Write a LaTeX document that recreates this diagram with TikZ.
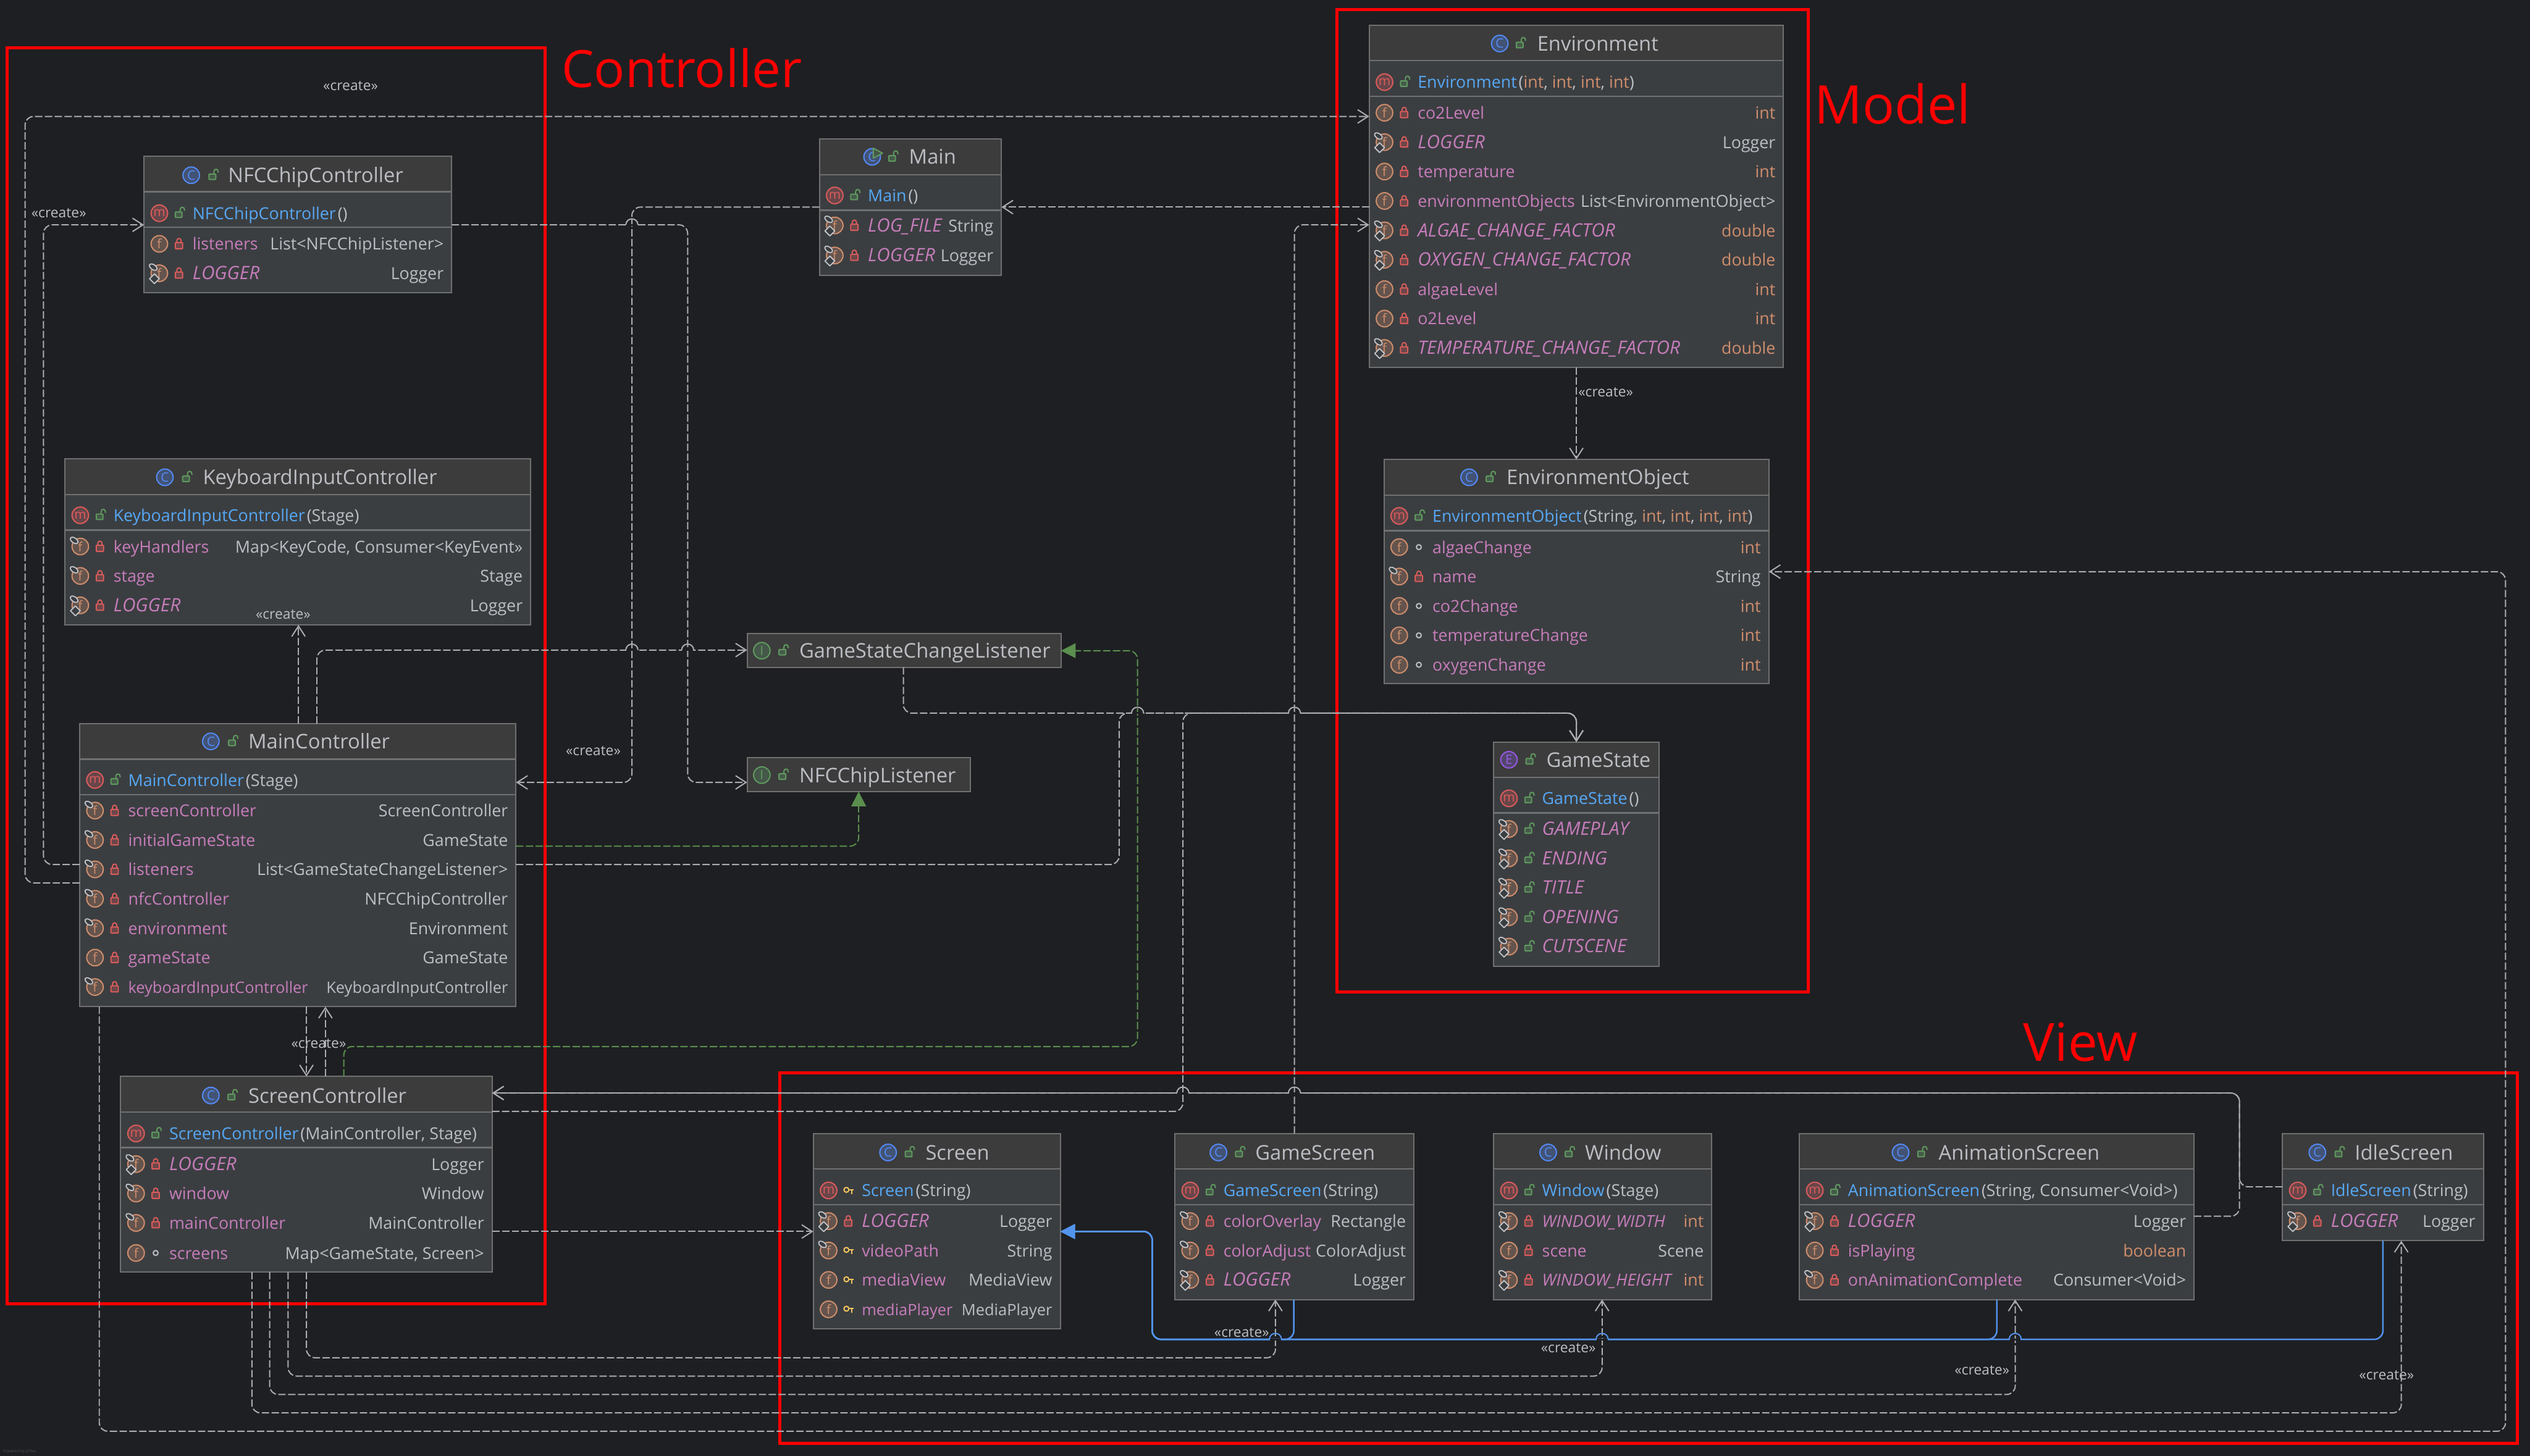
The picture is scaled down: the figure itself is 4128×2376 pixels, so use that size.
\documentclass[tikz,border=0pt]{standalone}
\usepackage{fontspec}
\setmainfont{Open Sans}
\usetikzlibrary{arrows.meta}
\definecolor{bg}{HTML}{1E1F22}
\definecolor{hdr}{HTML}{3C3C3C}
\definecolor{body}{HTML}{3B3E41}
\definecolor{edge}{HTML}{707070}
\definecolor{cline}{HTML}{ABADB0}
\definecolor{ctxt}{HTML}{BCBEC4}
\definecolor{cname}{HTML}{C77DBB}
\definecolor{cmeth}{HTML}{56A8F5}
\definecolor{cprim}{HTML}{CF8E6D}
\definecolor{cblue}{HTML}{548AF7}
\definecolor{cred}{HTML}{DB5C5C}
\definecolor{cgreen}{HTML}{5F9A5F}
\definecolor{cpurp}{HTML}{955AE0}
\definecolor{cyel}{HTML}{F2C55C}
\definecolor{cinh}{HTML}{5394EC}
\definecolor{cimp}{HTML}{5A8F4E}
\newcount\nid
\newcommand{\stp}{\global\advance\nid by 1 }
\newcommand{\ty}[1]{\textcolor{ctxt}{#1}}
\newcommand{\pr}[1]{\textcolor{cprim}{#1}}
\newcommand{\me}[1]{\textcolor{cmeth}{#1}\hspace{3pt}}
\newcommand{\st}[1]{{\fontsize{30}{30}\selectfont\textit{#1}}}
\newcommand{\snug}[1]{{\fontsize{25.6}{26}\selectfont #1}}
\tikzset{
  umlbox/.style={draw=edge,fill=body,line width=2pt,inner sep=0pt,outer sep=0pt,anchor=north west},
  dep/.style={draw=cline,line width=2pt,dash pattern=on 12pt off 4pt,rounded corners=14pt,-{Straight Barb[length=17pt,width=22pt,line width=2pt]}},
  impl/.style={draw=cimp,line width=2pt,dash pattern=on 12pt off 4pt,rounded corners=14pt,-{Triangle[length=24pt,width=24pt]}},
  inh/.style={draw=cinh,line width=2.5pt,rounded corners=14pt,-{Triangle[length=24pt,width=24pt]}},
  sect/.style={draw=red,line width=5pt},
  secttxt/.style={text=red,font=\fontsize{84}{84}\selectfont,anchor=base west,inner sep=0pt},
  crt/.style={text=ctxt,font=\fontsize{23}{23}\selectfont,inner sep=0pt},
  titletxt/.style={font=\fontsize{33}{33}\selectfont,text=ctxt,anchor=base west,inner sep=0pt},
  rowl/.style={font=\fontsize{27}{27}\selectfont,text=cname,anchor=base west,inner sep=0pt},
  rowr/.style={font=\fontsize{27}{27}\selectfont,text=ctxt,anchor=base east,inner sep=0pt},
  ctor/.style={font=\fontsize{27}{27}\selectfont,text=ctxt,anchor=base west,inner sep=0pt},
}
% circular type icon
\newcommand{\ticon}[5]{\stp
  \node[circle,draw=#4,fill=#5,line width=2pt,minimum size=27pt,inner sep=0pt,text=#4,font=\fontsize{21}{21}\selectfont] (g\the\nid) at (#1,#2) {#3};}
% visibility icons
\newcommand{\vpri}[2]{\draw[cred,line width=2pt,fill=cred!30!body,rounded corners=1pt] (#1-6,#2-2) rectangle (#1+6,#2+8);
  \draw[cred,line width=2pt] (#1-3.5,#2-2) -- (#1-3.5,#2-5) .. controls (#1-3.5,#2-10) and (#1+3.5,#2-10) .. (#1+3.5,#2-5) -- (#1+3.5,#2-2);}
\newcommand{\vpub}[2]{\draw[cgreen,line width=2pt,fill=cgreen!30!body,rounded corners=1pt] (#1-6,#2-2) rectangle (#1+5,#2+7);
  \draw[cgreen,line width=2pt] (#1+2,#2-2) -- (#1+2,#2-6) .. controls (#1+2,#2-11) and (#1+9,#2-11) .. (#1+9,#2-6) -- (#1+9,#2-4);}
\newcommand{\vpro}[2]{\draw[cyel,line width=2pt] (#1-3,#2-1) circle (4pt);
  \draw[cyel,line width=2pt] (#1+1,#2-1) -- (#1+9,#2-1) (#1+6,#2-1) -- (#1+6,#2+6);}
\newcommand{\vpkg}[2]{\draw[ctxt,line width=2pt] (#1,#2) circle (4pt);}
% modifier markers
\newcommand{\mnone}[2]{}
\newcommand{\mfin}[2]{\draw[draw=ctxt!90!white,fill=body,line width=1.8pt] (#1-10,#2-10) ellipse [x radius=7pt,y radius=4pt,rotate=-35];}
\newcommand{\mboth}[2]{\mfin{#1}{#2}\draw[draw=ctxt!90!white,fill=body,line width=1.8pt,line join=round] (#1-8,#2+1) -- (#1,#2+9) -- (#1-8,#2+17) -- (#1-16,#2+9) -- cycle;}
% class box: id x1 x2 top bottom
\newcommand{\umlb}[5]{
  \pgfmathsetlengthmacro{\bw}{#3-(#2)}\pgfmathsetlengthmacro{\bh}{#5-(#4)}
  \node[umlbox,minimum width=\bw,minimum height=\bh] (#1) at (#2,#4) {};
  \fill[hdr] (#2+1,#4+1) rectangle (#3-1,#4+57);
  \draw[edge,line width=2.5pt] (#2+1,#4+58) -- (#3-1,#4+58) (#2+1,#4+116) -- (#3-1,#4+116);
}
% title: cx vx tx y letter col tint text
\newcommand{\ttl}[8]{\ticon{#1}{#4}{#5}{#6}{#7}\vpub{#2}{#4}\stp
  \node[titletxt] (t\the\nid) at (#3,#4+12) {#8};}
% ctor row: x1 y vis content
\newcommand{\cto}[4]{\ticon{#1+25}{#2}{m}{cred}{cred!28!body}#3{#1+57}{#2}\stp
  \node[ctor] (c\the\nid) at (#1+79,#2+10) {#4};}
% field row: x1 x2 y marker vis name type
\newcommand{\frow}[7]{\ticon{#1+25}{#3}{f}{cprim}{cprim!28!body}#4{#1+25}{#3}#5{#1+57}{#3}\stp
  \node[rowl] (l\the\nid) at (#1+79,#3+10) {#6};\stp
  \node[rowr] (r\the\nid) at (#2-13,#3+10) {#7};}
% line hop over a crossing line
\newcommand{\hop}[3]{\fill[bg] (#1-9,#2-1.5) rectangle (#1+9,#2+1.5);
  \draw[#3,line width=2pt] (#1-10,#2) .. controls (#1-9,#2-13) and (#1+9,#2-13) .. (#1+10,#2);}
\begin{document}
\begin{tikzpicture}[x=1pt,y=-1pt]
\fill[bg] (0,0) rectangle (4128,2376);
\useasboundingbox (0,0) rectangle (4128,2376);
% sections
\draw[sect] (12,78) rectangle (889,2128);
\draw[sect] (2181,16) rectangle (2950,1619);
\draw[sect] (1272,1751) rectangle (4107,2356);
\node[secttxt] (tctl) at (916,143) {Controller};
\node[secttxt,font=\fontsize{87}{87}\selectfont] (tmod) at (2960,202) {Model};
\node[secttxt,font=\fontsize{86}{86}\selectfont] (tvw) at (3301,1732) {View};
\node[text=white!22!bg,font=\fontsize{6.5}{6.5}\selectfont,anchor=base west,inner sep=0pt] (yf) at (5,2371) {Powered by yFiles};

% boxes
\umlb{nfc}{235}{737}{255}{478}
\ttl{312}{347}{372}{286}{C}{cblue}{cblue!28!body}{NFCChipController}
\cto{235}{348}{\vpub}{\me{NFCChipController}()}
\frow{235}{737}{398}{\mnone}{\vpri}{listeners}{List<NFCChipListener>}
\frow{235}{737}{446}{\mboth}{\vpri}{\st{LOGGER}}{Logger}

\umlb{kbd}{106}{866}{749}{1020}
\ttl{269}{304}{331}{779}{C}{cblue}{cblue!28!body}{KeyboardInputController}
\cto{106}{841}{\vpub}{\me{KeyboardInputController}(Stage)}
\frow{106}{866}{892}{\mfin}{\vpri}{keyHandlers}{Map<KeyCode, Consumer<KeyEvent>>}
\frow{106}{866}{940}{\mfin}{\vpri}{stage}{Stage}
\frow{106}{866}{988}{\mboth}{\vpri}{\st{LOGGER}}{Logger}

\umlb{mctl}{130}{842}{1181}{1643}
\ttl{344}{379}{405}{1210}{C}{cblue}{cblue!28!body}{MainController}
\cto{130}{1273}{\vpub}{\me{MainController}(Stage)}
\frow{130}{842}{1323}{\mfin}{\vpri}{screenController}{ScreenController}
\frow{130}{842}{1371}{\mfin}{\vpri}{initialGameState}{GameState}
\frow{130}{842}{1419}{\mfin}{\vpri}{listeners}{List<GameStateChangeListener>}
\frow{130}{842}{1467}{\mfin}{\vpri}{nfcController}{NFCChipController}
\frow{130}{842}{1515}{\mfin}{\vpri}{environment}{Environment}
\frow{130}{842}{1563}{\mnone}{\vpri}{gameState}{GameState}
\frow{130}{842}{1611}{\mfin}{\vpri}{\snug{keyboardInputController}}{\snug{KeyboardInputController}}

\umlb{sctl}{197}{803}{1757}{2076}
\ttl{344}{378}{405}{1788}{C}{cblue}{cblue!28!body}{ScreenController}
\cto{197}{1850}{\vpub}{\me{ScreenController}(MainController, Stage)}
\frow{197}{803}{1900}{\mboth}{\vpri}{\st{LOGGER}}{Logger}
\frow{197}{803}{1948}{\mfin}{\vpri}{window}{Window}
\frow{197}{803}{1996}{\mfin}{\vpri}{mainController}{MainController}
\frow{197}{803}{2045}{\mnone}{\vpkg}{screens}{Map<GameState, Screen>}

\umlb{mainc}{1337}{1634}{227}{449}
\ticon{1423}{256}{C}{cblue}{cblue!28!body}
\draw[cgreen,line width=2pt,fill=cgreen!28!body,line join=round] (1425,242) -- (1440,250) -- (1425,258) -- cycle;
\vpub{1456}{256}
\node[titletxt] (tmain) at (1483,268) {Main};
\cto{1337}{319}{\vpub}{\me{Main}()}
\frow{1337}{1634}{368}{\mboth}{\vpri}{\st{LOG\_FILE}}{String}
\frow{1337}{1634}{417}{\mboth}{\vpri}{\st{LOGGER}}{Logger}

\node[umlbox,fill=hdr,minimum width=512pt,minimum height=55pt] (gscl) at (1219,1034) {};
\ticon{1243}{1062}{I}{cgreen}{cgreen!28!body}\vpub{1277}{1062}
\node[titletxt] (tgscl) at (1304,1074) {GameStateChangeListener};
\node[umlbox,fill=hdr,minimum width=364pt,minimum height=55pt] (nfcl) at (1219,1237) {};
\ticon{1243}{1265}{I}{cgreen}{cgreen!28!body}\vpub{1277}{1265}
\node[titletxt] (tnfcl) at (1304,1277) {NFCChipListener};

\umlb{env}{2234}{2910}{41}{600}
\ttl{2447}{2480}{2508}{71}{C}{cblue}{cblue!28!body}{Environment}
\cto{2234}{134}{\vpub}{\me{Environment}(\pr{int}, \pr{int}, \pr{int}, \pr{int})}
\frow{2234}{2910}{184}{\mnone}{\vpri}{co2Level}{\pr{int}}
\frow{2234}{2910}{232}{\mboth}{\vpri}{\st{LOGGER}}{Logger}
\frow{2234}{2910}{280}{\mnone}{\vpri}{temperature}{\pr{int}}
\frow{2234}{2910}{328}{\mnone}{\vpri}{environmentObjects}{List<EnvironmentObject>}
\frow{2234}{2910}{376}{\mboth}{\vpri}{\st{ALGAE\_CHANGE\_FACTOR}}{\pr{double}}
\frow{2234}{2910}{424}{\mboth}{\vpri}{\st{OXYGEN\_CHANGE\_FACTOR}}{\pr{double}}
\frow{2234}{2910}{472}{\mnone}{\vpri}{algaeLevel}{\pr{int}}
\frow{2234}{2910}{520}{\mnone}{\vpri}{o2Level}{\pr{int}}
\frow{2234}{2910}{568}{\mboth}{\vpri}{\st{TEMPERATURE\_CHANGE\_FACTOR}}{\pr{double}}

\umlb{envo}{2258}{2886}{750}{1116}
\ttl{2397}{2431}{2458}{779}{C}{cblue}{cblue!28!body}{EnvironmentObject}
\cto{2258}{842}{\vpub}{\me{EnvironmentObject}(String, \pr{int}, \pr{int}, \pr{int}, \pr{int})}
\frow{2258}{2886}{893}{\mnone}{\vpkg}{algaeChange}{\pr{int}}
\frow{2258}{2886}{941}{\mfin}{\vpri}{name}{String}
\frow{2258}{2886}{989}{\mnone}{\vpkg}{co2Change}{\pr{int}}
\frow{2258}{2886}{1037}{\mnone}{\vpkg}{temperatureChange}{\pr{int}}
\frow{2258}{2886}{1085}{\mnone}{\vpkg}{oxygenChange}{\pr{int}}

\umlb{gst}{2437}{2707}{1211}{1577}
\ttl{2462}{2496}{2523}{1240}{E}{cpurp}{cpurp!28!body}{GameState}
\cto{2437}{1303}{\vpub}{\me{GameState}()}
\frow{2437}{2707}{1353}{\mboth}{\vpub}{\st{GAMEPLAY}}{}
\frow{2437}{2707}{1401}{\mboth}{\vpub}{\st{ENDING}}{}
\frow{2437}{2707}{1449}{\mboth}{\vpub}{\st{TITLE}}{}
\frow{2437}{2707}{1497}{\mboth}{\vpub}{\st{OPENING}}{}
\frow{2437}{2707}{1545}{\mboth}{\vpub}{\st{CUTSCENE}}{}

\umlb{scr}{1327}{1730}{1850}{2169}
\ttl{1449}{1483}{1510}{1881}{C}{cblue}{cblue!28!body}{Screen}
\cto{1327}{1943}{\vpro}{\me{Screen}(String)}
\frow{1327}{1730}{1993}{\mboth}{\vpri}{\st{LOGGER}}{Logger}
\frow{1327}{1730}{2041}{\mfin}{\vpro}{videoPath}{String}
\frow{1327}{1730}{2089}{\mnone}{\vpro}{mediaView}{MediaView}
\frow{1327}{1730}{2137}{\mnone}{\vpro}{\snug{mediaPlayer}}{\snug{MediaPlayer}}

\umlb{gscr}{1917}{2307}{1850}{2121}
\ttl{1988}{2022}{2048}{1881}{C}{cblue}{cblue!28!body}{GameScreen}
\cto{1917}{1943}{\vpub}{\me{GameScreen}(String)}
\frow{1917}{2307}{1993}{\mfin}{\vpri}{colorOverlay}{Rectangle}
\frow{1917}{2307}{2041}{\mfin}{\vpri}{colorAdjust}{ColorAdjust}
\frow{1917}{2307}{2089}{\mboth}{\vpri}{\st{LOGGER}}{Logger}

\umlb{win}{2437}{2793}{1850}{2121}
\ttl{2526}{2560}{2586}{1881}{C}{cblue}{cblue!28!body}{Window}
\cto{2437}{1943}{\vpub}{\me{Window}(Stage)}
\frow{2437}{2793}{1993}{\mboth}{\vpri}{{\fontsize{27}{27}\selectfont\textit{WINDOW\_WIDTH}}}{\pr{int}}
\frow{2437}{2793}{2041}{\mnone}{\vpri}{scene}{Scene}
\frow{2437}{2793}{2089}{\mboth}{\vpri}{{\fontsize{27}{27}\selectfont\textit{WINDOW\_HEIGHT}}}{\pr{int}}

\umlb{anim}{2936}{3580}{1850}{2121}
\ttl{3101}{3135}{3163}{1881}{C}{cblue}{cblue!28!body}{AnimationScreen}
\cto{2936}{1943}{\vpub}{\me{AnimationScreen}(String, Consumer<Void>)}
\frow{2936}{3580}{1993}{\mboth}{\vpri}{\st{LOGGER}}{Logger}
\frow{2936}{3580}{2041}{\mnone}{\vpri}{isPlaying}{\pr{boolean}}
\frow{2936}{3580}{2089}{\mfin}{\vpri}{onAnimationComplete}{Consumer<Void>}

\umlb{idle}{3724}{4052}{1850}{2025}
\ttl{3781}{3816}{3842}{1881}{C}{cblue}{cblue!28!body}{IdleScreen}
\cto{3724}{1943}{\vpub}{\me{IdleScreen}(String)}
\frow{3724}{4052}{1993}{\mboth}{\vpri}{\st{LOGGER}}{Logger}

% connectors
\draw[dep] (mctl.west |- 0,1441) -- (41,1441) -- (41,190) -- (env.west |- 0,190);
\draw[dep] (mctl.west |- 0,1411) -- (71,1411) -- (71,367) -- (nfc.west |- 0,367);
\draw[dep] (env.west |- 0,338) -- (mainc.east |- 0,338);
\draw[dep] (mainc.west |- 0,338) -- (1031,338) -- (1031,1277) -- (mctl.east |- 0,1277);
\draw[dep] (nfc.east |- 0,367) -- (1122,367) -- (1122,1277) -- (nfcl.west |- 0,1277);
\draw[dep] (mctl.north -| 487,0) -- (kbd.south -| 487,0);
\draw[dep] (mctl.north -| 517,0) -- (517,1061) -- (gscl.west |- 0,1061);
\draw[dep] (mctl.south -| 500,0) -- (sctl.north -| 500,0);
\draw[dep] (sctl.north -| 531,0) -- (mctl.south -| 531,0);
\draw[impl] (mctl.east |- 0,1381) -- (1401,1381) -- (nfcl.south -| 1401,0);
\draw[impl] (sctl.north -| 561,0) -- (561,1708) -- (1856,1708) -- (1856,1062) -- (gscl.east |- 0,1062);
\draw[dep] (gscl.south -| 1474,0) -- (1474,1164) -- (2572,1164) -- (gst.north -| 2572,0);
\draw[dep] (mctl.east |- 0,1411) -- (1826,1411) -- (1826,1164) -- (2572,1164) -- (gst.north -| 2572,0);
\draw[dep] (sctl.east |- 0,1814) -- (1930,1814) -- (1930,1164) -- (2572,1164) -- (gst.north -| 2572,0);
\draw[dep] (gscr.north -| 2112,0) -- (2112,367) -- (env.west |- 0,367);
\draw[dep] (anim.east |- 0,1985) -- (3654,1985) -- (3654,1784) -- (sctl.east |- 0,1784);
\draw[dep] (idle.west |- 0,1937) -- (3654,1937) -- (3654,1784) -- (sctl.east |- 0,1784);
\draw[dep] (mctl.south -| 162,0) -- (162,2336) -- (4088,2336) -- (4088,933) -- (envo.east |- 0,933);
\draw[dep] (env.south -| 2572,0) -- (envo.north -| 2572,0);
\draw[dep] (sctl.east |- 0,2010) -- (scr.west |- 0,2010);
\draw[dep] (sctl.south -| 500,0) -- (500,2216) -- (2081,2216) -- (gscr.south -| 2081,0);
\draw[dep] (sctl.south -| 470,0) -- (470,2246) -- (2614,2246) -- (win.south -| 2614,0);
\draw[dep] (sctl.south -| 440,0) -- (440,2276) -- (3288,2276) -- (anim.south -| 3288,0);
\draw[dep] (sctl.south -| 411,0) -- (411,2306) -- (3918,2306) -- (idle.south -| 3918,0);
\draw[inh] (gscr.south -| 2111,0) -- (2111,2186) -- (1880,2186) -- (1880,2010) -- (scr.east |- 0,2010);
\draw[inh] (anim.south -| 3258,0) -- (3258,2186) -- (1880,2186) -- (1880,2010) -- (scr.east |- 0,2010);
\draw[inh] (idle.south -| 3888,0) -- (3888,2186) -- (1880,2186) -- (1880,2010) -- (scr.east |- 0,2010);
% hops
\hop{1031}{367}{cline}
\hop{1031}{1061}{cline}
\hop{1122}{1061}{cline}
\hop{1856}{1164}{cline}
\hop{2112}{1164}{cline}
\hop{1930}{1784}{cline}
\hop{2112}{1784}{cline}
\hop{2081}{2186}{cinh}
\hop{2614}{2186}{cinh}
\hop{3288}{2186}{cinh}
% labels
\node[crt] (c1) at (572,140) {«create»};
\node[crt] (c2) at (96,348) {«create»};
\node[crt] (c3) at (462,1003) {«create»};
\node[crt] (c4) at (968,1226) {«create»};
\node[crt] (c5) at (520,1703) {«create»};
\node[crt] (c6) at (2620,640) {«create»};
\node[crt] (c7) at (2026,2175) {«create»};
\node[crt] (c8) at (2559,2200) {«create»};
\node[crt] (c9) at (3234,2236) {«create»};
\node[crt] (c10) at (3894,2244) {«create»};
\end{tikzpicture}
\end{document}
